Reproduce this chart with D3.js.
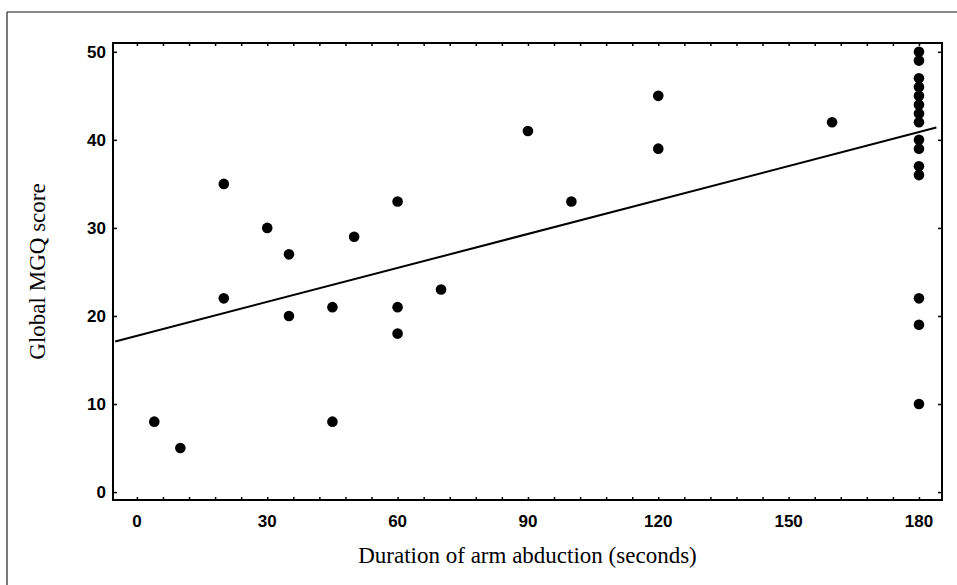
<!DOCTYPE html>
<html>
<head>
<meta charset="utf-8">
<script src="https://cdn.jsdelivr.net/npm/d3@7"></script>
<style>
  body { margin: 0; background: #fff; }
  .tick-label { font-family: "Liberation Sans", Arial, sans-serif; font-weight: bold; font-size: 17px; }
  .axis-title { font-family: "Liberation Serif", "Times New Roman", serif; font-size: 23px; }
</style>
</head>
<body>
<svg id="chart" width="957" height="585"></svg>
<script>
// duration of arm abduction (seconds) vs global MGQ score
let durations = [4, 10, 20, 20, 30, 35, 35, 45, 45, 50, 60, 60, 60, 70, 90, 100, 120, 120, 160,
  180, 180, 180, 180, 180, 180, 180, 180, 180, 180, 180, 180, 180, 180, 180]
let scores = [8, 5, 35, 22, 30, 27, 20, 21, 8, 29, 33, 21, 18, 23, 41, 33, 45, 39, 42,
  50, 49, 47, 46, 45, 44, 43, 42, 40, 39, 37, 36, 22, 19, 10]
// fitted line at its two ends
let fitX = [-5, 184]
let fitY = [17.1, 41.4]
let xTicks = [0, 30, 60, 90, 120, 150, 180]
let yTicks = [0, 10, 20, 30, 40, 50]

let svg = d3.select('#chart')

// outer frame (top and left edges only show)
svg.append('line').attr('x1', 7).attr('x2', 957).attr('y1', 12).attr('y2', 12)
  .attr('stroke', '#888').attr('stroke-width', 2)
svg.append('line').attr('x1', 7).attr('x2', 7).attr('y1', 12).attr('y2', 585)
  .attr('stroke', '#222').attr('stroke-width', 1.2)

let plotLeft = 113, plotRight = 942, plotTop = 43, plotBottom = 500

let x = d3.scaleLinear().domain([-5.5, 185.3]).range([plotLeft, plotRight])
let y = d3.scaleLinear().domain([-0.9, 51]).range([plotBottom, plotTop])

// minor ticks every 6 s on bottom/top, every 10 on left/right (inward)
let minorX = d3.range(0, 181, 6)
let g = svg.append('g')

g.append('g').attr('transform', `translate(0,${plotBottom})`)
  .call(d3.axisTop(x).tickValues(minorX).tickSize(3).tickFormat(''))
g.append('g').attr('transform', `translate(0,${plotTop})`)
  .call(d3.axisBottom(x).tickValues(minorX).tickSize(3).tickFormat(''))
g.append('g').attr('transform', `translate(${plotLeft},0)`)
  .call(d3.axisRight(y).tickValues(yTicks).tickSize(4).tickFormat(''))
g.append('g').attr('transform', `translate(${plotRight},0)`)
  .call(d3.axisLeft(y).tickValues(yTicks).tickSize(4).tickFormat(''))
g.selectAll('.domain').remove()
g.selectAll('.tick line').attr('stroke', '#000').attr('stroke-width', 1.5)

// tick labels
svg.append('g').selectAll('text').data(xTicks).join('text')
  .attr('class', 'tick-label')
  .attr('x', d => x(d)).attr('y', 527)
  .attr('text-anchor', 'middle')
  .text(d => d)
svg.append('g').selectAll('text').data(yTicks).join('text')
  .attr('class', 'tick-label')
  .attr('x', 106).attr('y', d => y(d) + 6)
  .attr('text-anchor', 'end')
  .text(d => d)

// plot frame
svg.append('rect')
  .attr('x', plotLeft).attr('y', plotTop)
  .attr('width', plotRight - plotLeft).attr('height', plotBottom - plotTop)
  .attr('fill', 'none').attr('stroke', '#000').attr('stroke-width', 2)

// regression line
svg.append('line')
  .attr('x1', x(fitX[0])).attr('y1', y(fitY[0]))
  .attr('x2', x(fitX[1])).attr('y2', y(fitY[1]))
  .attr('stroke', '#000').attr('stroke-width', 2)

// points
svg.append('g').selectAll('circle').data(durations).join('circle')
  .attr('cx', d => x(d))
  .attr('cy', (d, i) => y(scores[i]))
  .attr('r', 5.3)
  .attr('fill', '#000')

// axis titles
svg.append('text').attr('class', 'axis-title')
  .attr('x', (plotLeft + plotRight) / 2).attr('y', 563)
  .attr('text-anchor', 'middle')
  .text('Duration of arm abduction (seconds)')
svg.append('text').attr('class', 'axis-title')
  .attr('transform', `translate(45,${(plotTop + plotBottom) / 2}) rotate(-90)`)
  .attr('text-anchor', 'middle')
  .text('Global MGQ score')
</script>
</body>
</html>
